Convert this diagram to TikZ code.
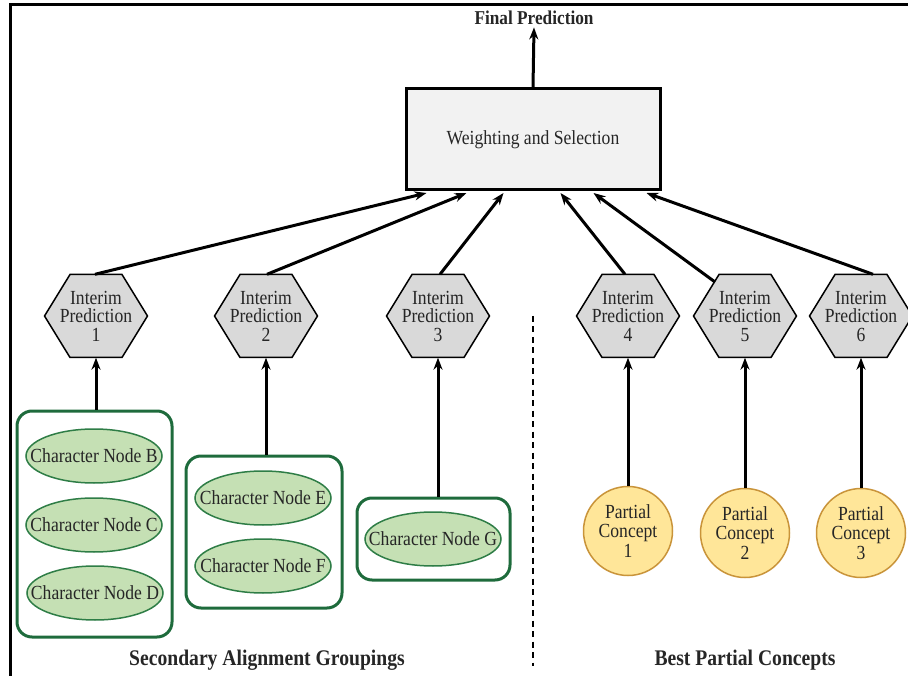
\documentclass[tikz,border=0pt]{standalone}
\usepackage{fontspec}
\setmainfont[FakeStretch=0.88]{Liberation Serif}
\usetikzlibrary{arrows.meta,calc,shapes.geometric}
\definecolor{grpgreen}{HTML}{1E6B3C}
\definecolor{ellfill}{HTML}{C5E0B4}
\definecolor{ellline}{HTML}{2E7D46}
\definecolor{hexfill}{HTML}{D9D9D9}
\definecolor{boxfill}{HTML}{F2F2F2}
\definecolor{circfill}{HTML}{FFE699}
\definecolor{circline}{HTML}{C9943A}
\definecolor{txt}{HTML}{262626}
\begin{document}
\begin{tikzpicture}[x=1pt,y=-1pt,
  every node/.style={font=\fontsize{20}{19.5}\selectfont, text=txt},
  conn/.style={line width=3pt, -{Stealth[length=12pt,width=9pt]}},
  hexdraw/.style={fill=hexfill, draw=black, line width=1.5pt, line join=miter},
  hextext/.style={minimum width=103pt, minimum height=83pt, inner sep=0pt, align=center},
  wbox/.style={draw=black, fill=boxfill, line width=3pt, minimum width=254pt, minimum height=101pt, inner sep=0pt},
  group/.style={draw=grpgreen, line width=3pt, rounded corners=15pt, inner sep=0pt},
  charnode/.style={ellipse, draw=ellline, fill=ellfill, line width=1.5pt, minimum width=136pt, minimum height=54pt, inner sep=0pt},
  concept/.style={circle, draw=circline, fill=circfill, line width=1.5pt, minimum size=89pt, inner sep=0pt, align=center},
  title/.style={font=\fontsize{22.3}{24}\selectfont\bfseries, text=txt},
  toptitle/.style={font=\fontsize{19.6}{21}\selectfont\bfseries, text=txt},
]
\useasboundingbox (0,0) rectangle (908,676);
% frame
\draw[line width=3pt] (10,676) -- (10,5) -- (908,5);

% top
\node[toptitle] (final) at (534,18) {Final Prediction};
\node[wbox] (box) at (533,139.5) {Weighting and Selection};
\draw[conn] (box.north) -- ($(final.south)+(0,-1)$);

% hexagons
\foreach \n/\x in {1/96, 2/266, 3/438, 4/628, 5/745, 6/861} {
  \filldraw[hexdraw] (\x-51.5,316) -- (\x-26,274.5) -- (\x+26,274.5) -- (\x+51.5,316) -- (\x+26,357.5) -- (\x-26,357.5) -- cycle;
  \node[hextext] (h\n) at (\x,316) {Interim\\[-1pt]Prediction\\[-1pt]\n};
}

% connectors into box
\draw[conn] ($(h1.north)+(-1,0)$) -- ($(box.south west)+(22,1.5)$);
\draw[conn] ($(h2.north)+(1,0)$) -- ($(box.south west)+(62,1.5)$);
\draw[conn] ($(h3.north)+(2,0)$) -- ($(box.south west)+(99,1.5)$);
\draw[conn] ($(h4.north)+(-3,0)$) -- ($(box.south west)+(156,1.5)$);
\draw[conn] ($(h5)+(-30,-34)$) -- ($(box.south west)+(189,1.5)$);
\draw[conn] ($(h6.north)+(12,0)$) -- ($(box.south west)+(242,1.5)$);

% groups
\node[group, minimum width=155pt, minimum height=226pt] (g1) at (94.5,524) {};
\node[group, minimum width=156pt, minimum height=152pt] (g2) at (264,532) {};
\node[group, minimum width=153pt, minimum height=82pt] (g3) at (433.5,539) {};

\node[charnode] (nB) at (94,456) {\makebox[0pt]{Character Node B}};
\node[charnode] (nC) at (94,525) {\makebox[0pt]{Character Node C}};
\node[charnode] (nD) at (95,593) {\makebox[0pt]{Character Node D}};
\node[charnode] (nE) at (263,498) {\makebox[0pt]{Character Node E}};
\node[charnode] (nF) at (263,566) {\makebox[0pt]{Character Node F}};
\node[charnode] (nG) at (433,539) {\makebox[0pt]{Character Node G}};

\draw[conn] (h1.south |- g1.north) -- (h1.south);
\draw[conn] (h2.south |- g2.north) -- (h2.south);
\draw[conn] (h3.south |- g3.north) -- (h3.south);

% partial concepts
\node[concept] (c1) at (628,531) {Partial\\[0pt]Concept\\[0pt]1};
\node[concept] (c2) at (745,533) {Partial\\[0pt]Concept\\[0pt]2};
\node[concept] (c3) at (861,533) {Partial\\[0pt]Concept\\[0pt]3};
\draw[conn] (c1.north) -- (h4.south);
\draw[conn] (c2.north) -- (h5.south);
\draw[conn] (c3.north) -- (h6.south);

% divider
\coordinate (dtop) at (533,316);
\coordinate (dbot) at (533,666);
\draw[line width=2.5pt, dash pattern=on 6pt off 4.5pt] (dtop) -- (dbot);

% titles
\node[title] (tl) at (267,660) {Secondary Alignment Groupings};
\node[title] (tr) at (745,660) {Best Partial Concepts};
\end{tikzpicture}
\end{document}
